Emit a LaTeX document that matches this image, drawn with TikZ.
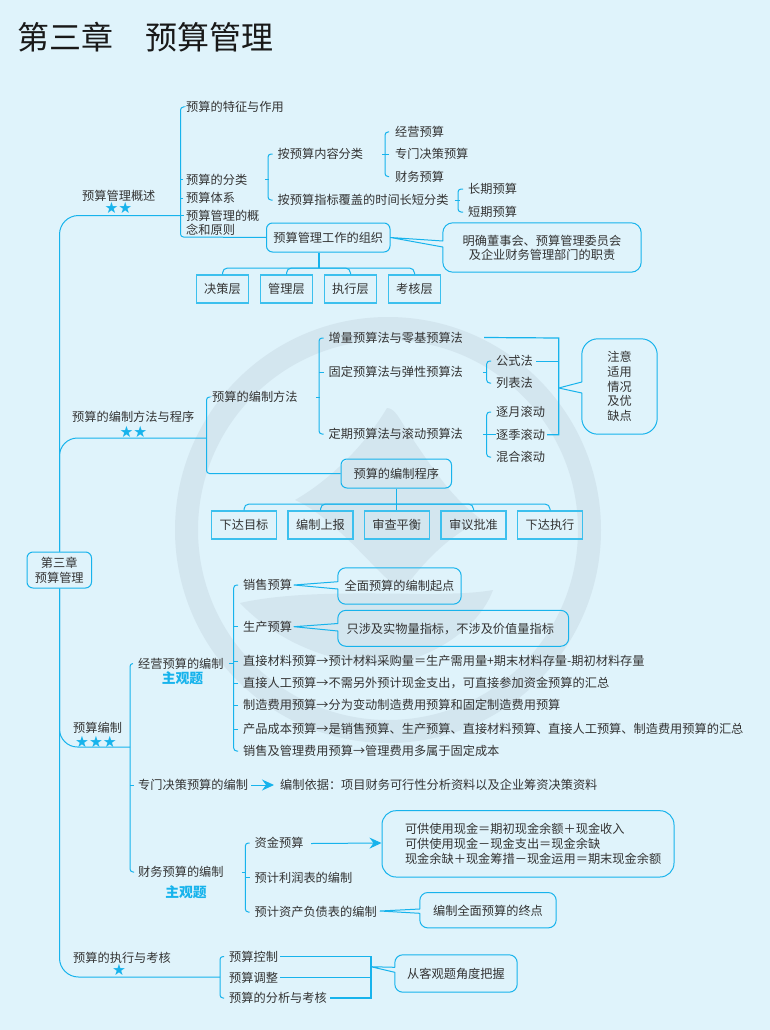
\documentclass[tikz,border=0pt]{standalone}
\usepackage{fontspec}
\setmainfont{Noto Sans CJK SC}
\newfontfamily\starfont{DejaVu Sans}
\usetikzlibrary{calc,arrows.meta}
\definecolor{bgc}{HTML}{DFF3FB}
\definecolor{wmc}{HTML}{D3E6EF}
\definecolor{linec}{HTML}{17B3EC}
\definecolor{boxc}{HTML}{3CC0EE}
\definecolor{txtc}{HTML}{333333}
\newcommand{\fs}[1]{\fontsize{#1}{#1}\selectfont}
\tikzset{
  oneline/.style={text height=11pt,text depth=1.4pt},
  mlab/.style={anchor=west,inner sep=0pt,text=txtc,font=\fs{12.2}},
  lab/.style={mlab,oneline},
  conn/.style={draw=linec,line width=1pt,rounded corners=3pt},
  bigc/.style={draw=linec,line width=1pt,rounded corners=19pt},
  plain/.style={draw=linec,line width=1pt},
  rbox/.style={draw=linec,line width=1pt,rounded corners=6pt,inner sep=0pt,text=txtc,font=\fs{12.2},align=center},
  sbox/.style={draw=boxc,line width=1.4pt,inner sep=0pt,text=txtc,font=\fs{12.2},minimum width=52pt,minimum height=28pt,oneline},
  calloutbody/.style={inner sep=0pt,text=txtc,font=\fs{12.2}},
  starlab/.style={inner sep=0pt,text=linec,font=\starfont\fs{15.5}},
  subj/.style={inner sep=0pt,text=linec,font=\bfseries\fs{13.8}},
  flow/.style={draw=linec,line width=1pt,-{Stealth[length=12pt,width=11pt,inset=4pt]}},
}
% #1 node name, #2 tip coordinate, #3 upper offset, #4 lower offset, #5 radius
\newcommand{\callout}[5]{%
  \draw[draw=linec,line width=1pt,line join=round] (#2) -- ($(#1.west)+(0,#3)$)
    [rounded corners=#5] -- (#1.north west) -- (#1.north east) -- (#1.south east) -- (#1.south west)
    [sharp corners] -- ($(#1.west)+(0,#4)$) -- cycle;}
\begin{document}
\begin{tikzpicture}[x=1pt,y=-1pt]
\useasboundingbox (0,0) rectangle (770,1030);
\fill[bgc] (0,0) rectangle (770,1030);
% watermark
\fill[wmc,even odd rule] (388,530) circle (213) (388,530) circle (190);
\fill[bgc] (150,672) .. controls (300,770) and (470,770) .. (620,672) -- (620,790) -- (150,790) -- cycle;
\fill[wmc] (387,408) .. controls (395,408) and (400,420) .. (408,432)
  .. controls (440,480) and (455,500) .. (482,520)
  .. controls (450,535) and (425,560) .. (403,590)
  .. controls (385,585) and (340,520) .. (295,500)
  .. controls (330,480) and (365,445) .. (387,408) -- cycle;
\fill[wmc] (240,603) .. controls (320,585) and (440,600) .. (493,590)
  .. controls (480,625) and (440,655) .. (390,665)
  .. controls (330,665) and (275,640) .. (240,603) -- cycle;
% title
\node[anchor=west,inner sep=0pt,text=black!90,font=\fs{32}] (title) at (17,37) {第三章　预算管理};
% root
\node[rbox,minimum width=64.5pt,minimum height=36pt] (root) at (59.25,570) {第三章\\[3pt]预算管理};
\coordinate (sp) at (59.5,570);
% ---- branch 1
\node[lab] (b1) at (82,196) {预算管理概述};
\node[starlab] (b1s) at (118.5,207.5) {★★};
\node[lab] (a1) at (186,107) {预算的特征与作用};
\node[lab] (a2) at (186,179.5) {预算的分类};
\node[lab] (a3) at (186,198) {预算体系};
\node[mlab,align=left] (a4) at (186,223) {预算管理的概\\[2pt]念和原则};
\node[lab] (c1) at (277.5,154) {按预算内容分类};
\node[lab] (c2) at (277.5,200) {按预算指标覆盖的时间长短分类};
\node[lab] (d1) at (395,132) {经营预算};
\node[lab] (d2) at (395,154) {专门决策预算};
\node[lab] (d3) at (395,176.5) {财务预算};
\node[lab] (e1) at (468,189) {长期预算};
\node[lab] (e2) at (468,212) {短期预算};
\node[rbox,oneline,minimum width=123.5pt,minimum height=29pt] (org) at (328.25,237.5) {预算管理工作的组织};
\node[calloutbody,minimum width=198pt,minimum height=49pt,align=center] (oc) at (542,247.5) {明确董事会、预算管理委员会\\[2pt]及企业财务管理部门的职责};
\coordinate (octip) at (org.east);
\callout{oc}{octip}{-6.5}{-0.5}{10pt}
\node[sbox] (L1) at (222.5,289) {决策层};
\node[sbox] (L2) at (286.5,289) {管理层};
\node[sbox] (L3) at (350.5,289) {执行层};
\node[sbox] (L4) at (414.5,289) {考核层};
\coordinate (s1) at (180.5,107);
\coordinate (s1b) at (180.5,237);
\coordinate (s1m) at (180.5,215.5);
\draw[bigc] (root.north -| sp) -- (sp |- s1m) -- (s1m);
\draw[conn] ($(a1.west)+(-3,0)$) -- (s1) -- (s1b) -- (org.west);
\draw[plain] ($(a2.west)+(-3,0)$) -- ++(-2.5,0);
\draw[plain] ($(a3.west)+(-3,0)$) -- ++(-2.5,0);
\draw[plain] (s1m) -- ++(3,0);
\draw[plain] ($(a2.east)+(18,0)$) -- ++(4,0);
\draw[conn] ($(c1.west)+(-5,0)$) -- ++(-4.5,0) -- ($(c2.west)+(-9.5,0)$) -- ($(c2.west)+(-5,0)$);
\draw[plain] ($(c1.east)+(19,0)$) -- ++(4,0);
\draw[conn] ($(d1.west)+(-6,0)$) -- ($(d1.west)+(-10,0)$) -- ($(d3.west)+(-10,0)$) -- ($(d3.west)+(-6,0)$);
\draw[plain] ($(d2.west)+(-6,0)$) -- ++(-4,0);
\draw[plain] ($(c2.east)+(6,0)$) -- ++(5,0);
\draw[conn] ($(e1.west)+(-5,0)$) -- ($(e1.west)+(-10,0)$) -- ($(e2.west)+(-10,0)$) -- ($(e2.west)+(-5,0)$);
\coordinate (hub1) at (319,268);
\draw[plain,line width=1.4pt] (org.south -| hub1) -- (hub1);
\draw[conn,rounded corners=5pt] (L1.north) -- (L1.north |- hub1) -- (L4.north |- hub1) -- (L4.north);
\draw[conn,rounded corners=5pt] (L2.north) -- (L2.north |- hub1) -- (hub1);
\draw[conn,rounded corners=5pt] (L3.north) -- (L3.north |- hub1) -- (hub1);
% ---- branch 2
\node[lab] (b2) at (72,417) {预算的编制方法与程序};
\node[starlab] (b2s) at (133.5,431.5) {★★};
\node[lab] (f1) at (212,397) {预算的编制方法};
\node[lab] (g1) at (328.5,338) {增量预算法与零基预算法};
\node[lab] (g2) at (328.5,372) {固定预算法与弹性预算法};
\node[lab] (g3) at (328.5,434) {定期预算法与滚动预算法};
\node[lab] (h1) at (496,361) {公式法};
\node[lab] (h2) at (496,383) {列表法};
\node[lab] (h3) at (496,412) {逐月滚动};
\node[lab] (h4) at (496,434.7) {逐季滚动};
\node[lab] (h5) at (496,457) {混合滚动};
\node[calloutbody,minimum width=75pt,minimum height=95pt,align=center] (nc) at (619.5,386.5) {注意\\[2.6pt]适用\\[2.6pt]情况\\[2.6pt]及优\\[2.6pt]缺点};
\coordinate (nctip) at (558.7,388);
\callout{nc}{nctip}{-4.5}{6.5}{16pt}
\node[rbox,oneline,minimum width=110.5pt,minimum height=29pt] (proc) at (396.25,473.5) {预算的编制程序};
\node[sbox,minimum width=65pt] (P1) at (244,525) {下达目标};
\node[sbox,minimum width=65pt] (P2) at (320.5,525) {编制上报};
\node[sbox,minimum width=65pt] (P3) at (396.7,525) {审查平衡};
\node[sbox,minimum width=65pt] (P4) at (473.5,525) {审议批准};
\node[sbox,minimum width=65pt] (P5) at (550,525) {下达执行};
\coordinate (s2) at (206.5,438);
\draw[bigc,rounded corners=18pt] (root.north -| sp) -- (sp |- s2) -- (s2);
\draw[conn] ($(f1.west)+(-3,0)$) -- (s2 |- f1.west) -- (s2 |- proc.west) -- (proc.west);
\draw[conn] ($(g1.west)+(-5,0)$) -- ($(g1.west)+(-9.5,0)$) -- ($(g3.west)+(-9.5,0)$) -- ($(g3.west)+(-5,0)$);
\draw[plain] ($(f1.east)+(18,0)$) -- ++(4,0);
\draw[plain] ($(g2.west)+(-5,0)$) -- ++(-4.5,0);
\coordinate (br2) at (558.7,388);
\draw[plain,line width=1.2pt] ($(g1.east)+(21,-0.5)$) -- (br2 |- g1.east) -- (br2 |- h4.east) -- ($(h4.east)+(2,0)$);
\draw[plain] ($(h1.east)+(3,0)$) -- (br2 |- h1.east);
\draw[plain] ($(g2.east)+(20,0)$) -- ++(4,0);
\draw[conn] ($(h1.west)+(-5,0)$) -- ($(h1.west)+(-9.3,0)$) -- ($(h2.west)+(-9.3,0)$) -- ($(h2.west)+(-5,0)$);
\draw[conn] ($(h3.west)+(-5,0)$) -- ($(h3.west)+(-9.3,0)$) -- ($(h5.west)+(-9.3,0)$) -- ($(h5.west)+(-5,0)$);
\draw[plain] ($(g3.east)+(20,0.7)$) -- ($(h4.west)+(-0.5,0)$);
\coordinate (hub2) at (396.7,504);
\draw[plain,line width=1.4pt] (proc.south -| hub2) -- (hub2);
\draw[plain] (hub2) -- (P3.north);
\draw[conn,rounded corners=5pt] (P1.north) -- (P1.north |- hub2) -- (P5.north |- hub2) -- (P5.north);
\draw[conn,rounded corners=5pt] (P2.north) -- (P2.north |- hub2) -- (hub2);
\draw[conn,rounded corners=5pt] (P4.north) -- (P4.north |- hub2) -- (hub2);
% ---- branch 3
\node[lab] (b3) at (73,728) {预算编制};
\node[starlab] (b3s) at (96,741.7) {★★★};
\node[lab] (j1) at (138,663.5) {经营预算的编制};
\node[subj] (j1s) at (182.5,678) {主观题};
\node[lab] (j2) at (138,785) {专门决策预算的编制};
\node[lab] (j3) at (138,872) {财务预算的编制};
\node[subj] (j3s) at (186,892) {主观题};
\node[lab] (k1) at (243,585) {销售预算};
\node[lab] (k2) at (243,626.7) {生产预算};
\node[lab] (k3) at (243,661) {直接材料预算→预计材料采购量＝生产需用量+期末材料存量-期初材料存量};
\node[lab] (k4) at (243,683) {直接人工预算→不需另外预计现金支出，可直接参加资金预算的汇总};
\node[lab] (k5) at (243,705) {制造费用预算→分为变动制造费用预算和固定制造费用预算};
\node[lab] (k6) at (243,729) {产品成本预算→是销售预算、生产预算、直接材料预算、直接人工预算、制造费用预算的汇总};
\node[lab] (k7) at (243,751) {销售及管理费用预算→管理费用多属于固定成本};
\node[calloutbody,oneline,minimum width=123pt,minimum height=36pt,align=center] (kc1) at (399.5,586) {全面预算的编制起点};
\coordinate (kt1) at (294,585);
\callout{kc1}{kt1}{-4.3}{3}{8pt}
\node[calloutbody,oneline,minimum width=230.5pt,minimum height=35.5pt,align=center] (kc2) at (453.25,628.3) {\hspace*{-6pt}只涉及实物量指标，不涉及价值量指标};
\coordinate (kt2) at (294,626.7);
\callout{kc2}{kt2}{-4.8}{2.7}{8pt}
\node[lab] (j2b) at (280,785) {编制依据：项目财务可行性分析资料以及企业筹资决策资料};
\node[lab] (m1) at (254.5,843) {资金预算};
\node[lab] (m2) at (254.5,877.7) {预计利润表的编制};
\node[lab] (m3) at (254.5,912) {预计资产负债表的编制};
\node[calloutbody,text width=292pt,minimum height=66.3pt,align=left,draw=linec,line width=1pt,rounded corners=14pt] (cash) at (528,843.85) {\hspace*{23pt}可供使用现金＝期初现金余额＋现金收入\\[2.6pt]\hspace*{23pt}可供使用现金－现金支出＝现金余缺\\[2.6pt]\hspace*{23pt}现金余缺＋现金筹措－现金运用＝期末现金余额};
\node[calloutbody,oneline,minimum width=136pt,minimum height=35pt,align=center] (mc) at (488,910.2) {编制全面预算的终点};
\coordinate (mt) at (380,911);
\callout{mc}{mt}{-1.2}{3.1}{8pt}
\coordinate (s3) at (130,747);
\draw[bigc,rounded corners=18pt] (root.south -| sp) -- (sp |- s3) -- (s3);
\draw[conn] ($(j1.west)+(-5,0)$) -- ($(j1.west)+(-8,0)$) -- ($(j3.west)+(-8,0)$) -- ($(j3.west)+(-4,0)$);
\draw[plain] ($(j2.west)+(-8,0)$) -- ($(j2.west)+(-4,0)$);
\draw[plain,line width=1.2pt] ($(j1.east)+(5,0)$) -- ++(5.5,0);
\draw[conn] ($(k1.west)+(-5,0)$) -- ($(k1.west)+(-9.3,0)$) -- ($(k7.west)+(-9.3,0)$) -- ($(k7.west)+(-5,0)$);
\foreach \k in {k2,k3,k4,k5,k6} {\draw[plain] ($(\k.west)+(-5,0)$) -- ++(-4.3,0);}
\draw[flow] ($(j2.east)+(3,0)$) -- ($(j2b.west)+(-6,0)$);
\draw[plain,line width=1.2pt] ($(j3.east)+(18,0.7)$) -- ++(4.3,0);
\draw[conn] ($(m1.west)+(-5,0)$) -- ($(m1.west)+(-9.2,0)$) -- ($(m3.west)+(-9.2,0)$) -- ($(m3.west)+(-5,0)$);
\draw[plain] ($(m2.west)+(-5,0)$) -- ++(-4.2,0);
\draw[flow] ($(m1.east)+(7.5,0.5)$) -- (cash.west |- m1.east);
% ---- branch 4
\node[lab] (b4) at (73,958) {预算的执行与考核};
\node[starlab] (b4s) at (119,970) {★};
\node[lab] (n1) at (229,956.5) {预算控制};
\node[lab] (n2) at (229,977.7) {预算调整};
\node[lab] (n3) at (229,998) {预算的分析与考核};
\node[calloutbody,oneline,minimum width=122pt,minimum height=37pt,align=center] (nc2) at (456,973.5) {从客观题角度把握};
\coordinate (nt) at (371,966.7);
\callout{nc2}{nt}{-6.2}{-1.2}{8pt}
\coordinate (s4) at (220,977);
\draw[bigc] (root.south -| sp) -- (sp |- s4) -- (s4);
\draw[conn] ($(n1.west)+(-5,0)$) -- ($(n1.west)+(-9,0)$) -- ($(n3.west)+(-9,0)$) -- ($(n3.west)+(-5,0)$);
\draw[plain,line width=1.2pt] ($(n1.east)+(2,0)$) -- (nt |- n1.east) -- (nt |- n3.east) -- ($(n3.east)+(3,0)$);
\draw[plain] ($(n2.east)+(2,0)$) -- (nt |- n2.east);
\end{tikzpicture}
\end{document}
